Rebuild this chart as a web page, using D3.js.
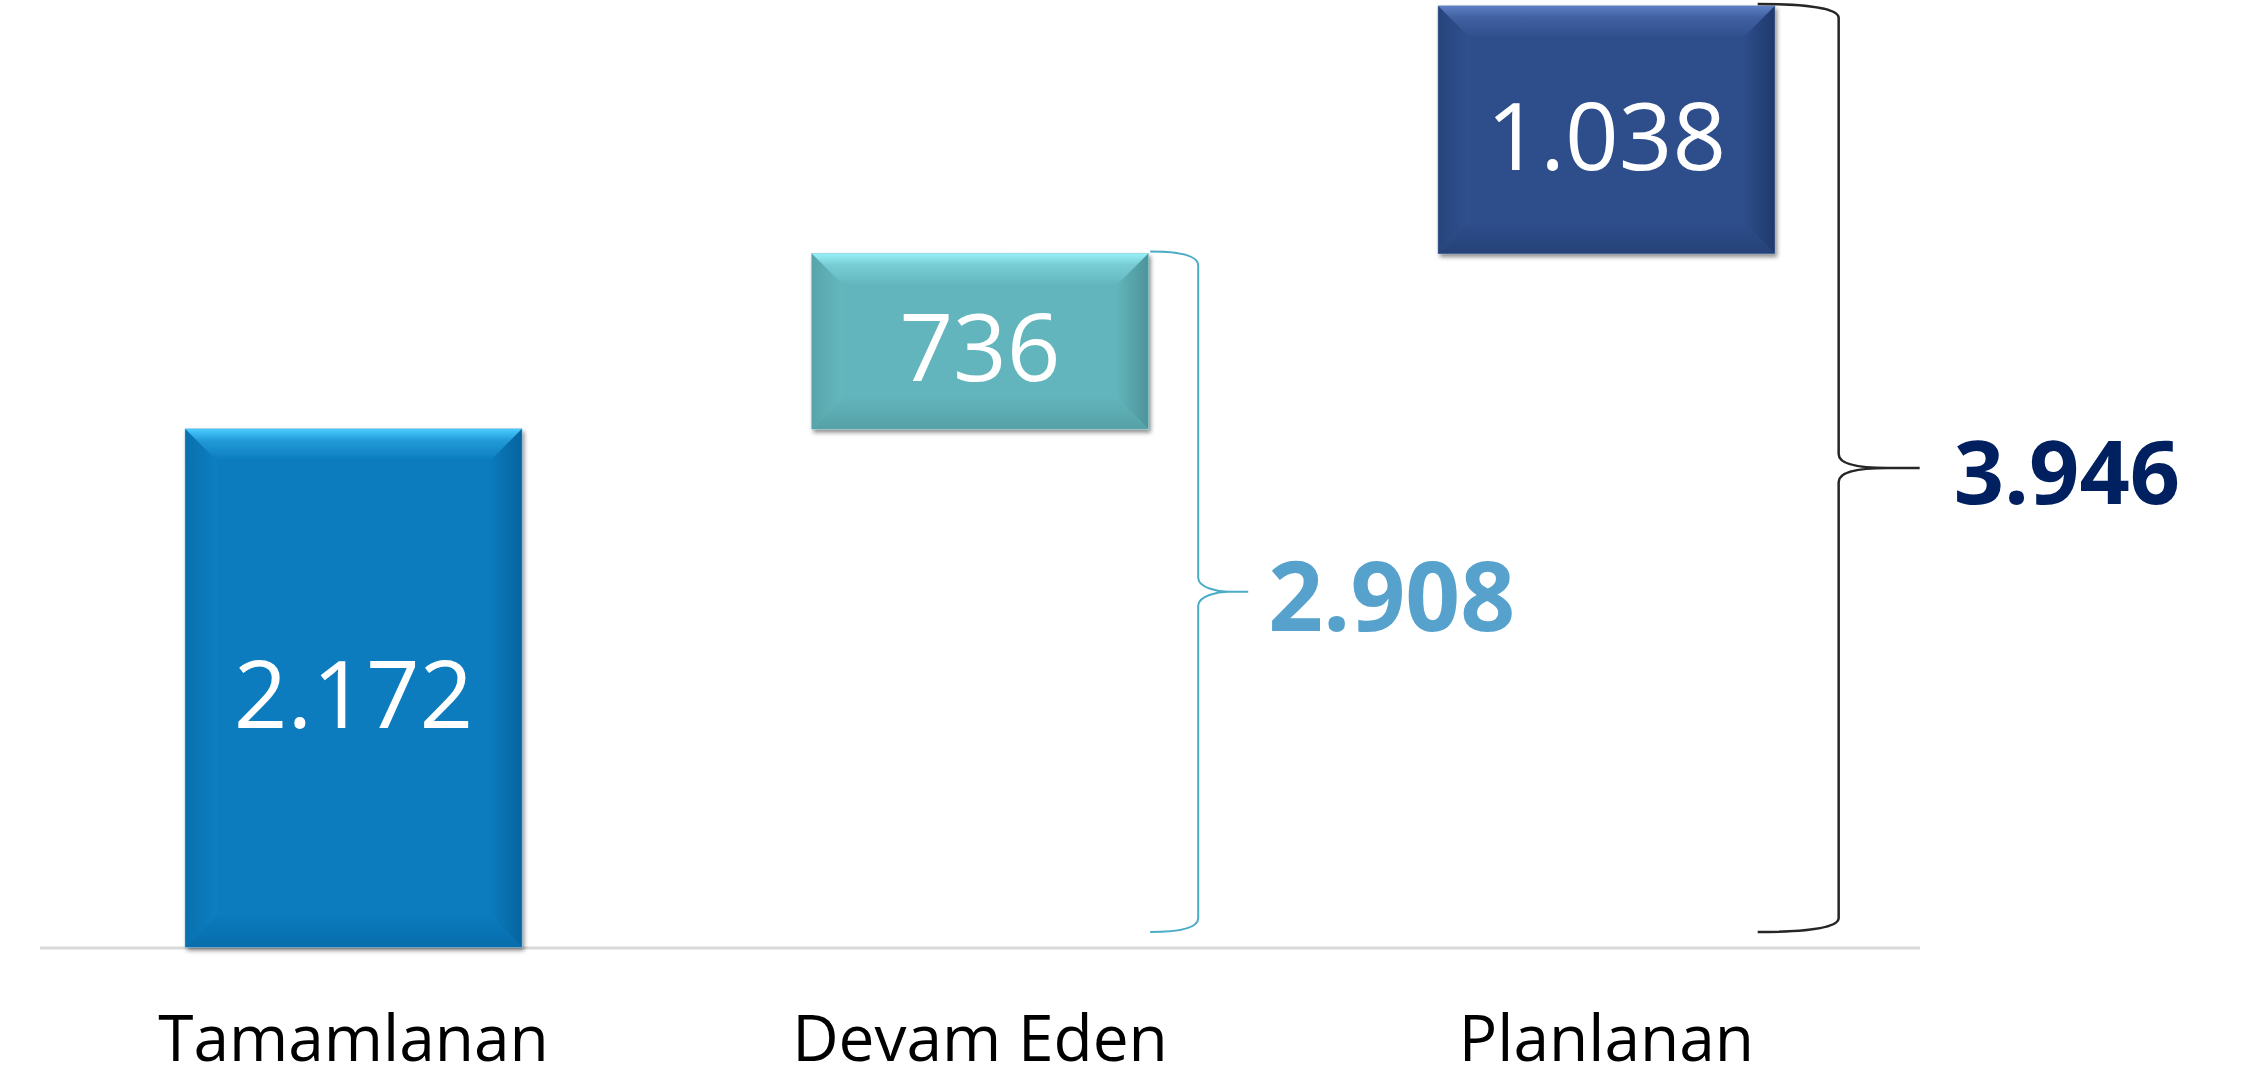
<!DOCTYPE html>
<html lang="tr">
<head>
<meta charset="UTF-8">
<title>Projeler</title>
<style>
    html,body{
        margin:0;
        padding:0;
        background:#fff;
    }
    svg{ display:block; }
</style>
</head>
<body>
<div id="chart"></div>
<script src="https://d3js.org/d3.v7.min.js"></script>
<script>
    // data
    const categories = ["Tamamlanan", "Devam Eden", "Planlanan"];
    const values = [2172, 736, 1038];
    const braceFor = [1, 2];           // running totals shown with a brace

    const barColors = [
        {base: "#0a7bbe", light: "#48cbff", dark: "#07649e"},
        {base: "#62b5bc", light: "#98f0f8", dark: "#4c9499"},
        {base: "#2e4d8b", light: "#5e80c4", dark: "#1f3a6c"}
    ];
    const totalColors = ["#56a2cd", "#56a2cd", "#002060"];
    const braceColors = ["#4bacc6", "#4bacc6", "#262626"];

    const [width, height] = [2249, 1081];
    const baseline = 947;

    const tr = d3.formatLocale({decimal: ",", thousands: ".", grouping: [3], currency: ["", ""]});
    const fmt = tr.format(",d");

    const starts = values.map((v, i) => d3.sum(values.slice(0, i)));
    const totals = Array.from(d3.cumsum(values));

    const svg = d3.select("#chart").append("svg")
        .attr("width", width)
        .attr("height", height);

    const x = d3.scaleBand()
        .domain(categories)
        .range([40, 1920])
        .paddingInner(0.463)
        .paddingOuter(0.232);

    const y = d3.scaleLinear()
        .domain([0, d3.max(totals)])
        .range([baseline, 6]);

    const defs = svg.append("defs");
    const f = defs.append("filter").attr("id", "shadow")
        .attr("x", "-10%").attr("y", "-10%").attr("width", "130%").attr("height", "130%");
    f.append("feDropShadow").attr("dx", 2).attr("dy", 3).attr("stdDeviation", 2)
        .attr("flood-color", "#000").attr("flood-opacity", 0.45);

    barColors.forEach((c, i) => {
        const g1 = defs.append("linearGradient").attr("id", "top" + i)
            .attr("x1", 0).attr("y1", 0).attr("x2", 0).attr("y2", 1);
        g1.append("stop").attr("offset", 0).attr("stop-color", c.light);
        g1.append("stop").attr("offset", 0.35).attr("stop-color", d3.interpolateRgb(c.light, c.base)(0.6));
        g1.append("stop").attr("offset", 1).attr("stop-color", c.base);
        const g2 = defs.append("linearGradient").attr("id", "left" + i)
            .attr("x1", 0).attr("y1", 0).attr("x2", 1).attr("y2", 0);
        g2.append("stop").attr("offset", 0).attr("stop-color", d3.interpolateRgb(c.base, c.dark)(0.5));
        g2.append("stop").attr("offset", 1).attr("stop-color", d3.interpolateRgb(c.base, c.light)(0.05));
        const g3 = defs.append("linearGradient").attr("id", "right" + i)
            .attr("x1", 0).attr("y1", 0).attr("x2", 1).attr("y2", 0);
        g3.append("stop").attr("offset", 0).attr("stop-color", c.base);
        g3.append("stop").attr("offset", 1).attr("stop-color", c.dark);
        const g4 = defs.append("linearGradient").attr("id", "bottom" + i)
            .attr("x1", 0).attr("y1", 0).attr("x2", 0).attr("y2", 1);
        g4.append("stop").attr("offset", 0).attr("stop-color", c.base);
        g4.append("stop").attr("offset", 1).attr("stop-color", d3.interpolateRgb(c.base, c.dark)(0.6));
    });

    // baseline
    svg.append("line")
        .attr("x1", 40).attr("x2", 1920)
        .attr("y1", baseline + 1).attr("y2", baseline + 1)
        .attr("stroke", "#d9d9d9").attr("stroke-width", 3);

    const bw = x.bandwidth();
    const bev = 32;

    const bars = svg.selectAll("g.bar")
        .data(values)
        .join("g")
        .attr("class", "bar");

    bars.each(function (v, i) {
        const g = d3.select(this);
        const x0 = x(categories[i]);
        const y0 = y(starts[i] + v);
        const h = y(starts[i]) - y0;
        const c = barColors[i];
        g.append("rect")
            .attr("x", x0).attr("y", y0).attr("width", bw).attr("height", h)
            .attr("fill", c.base)
            .attr("stroke", d3.interpolateRgb(c.base, "#ffffff")(0.3))
            .attr("stroke-width", 1)
            .attr("filter", "url(#shadow)");
        const b = Math.min(bev, h / 2);
        const pts = {
            top: [[x0, y0], [x0 + bw, y0], [x0 + bw - b, y0 + b], [x0 + b, y0 + b]],
            left: [[x0, y0], [x0 + b, y0 + b], [x0 + b, y0 + h - b], [x0, y0 + h]],
            right: [[x0 + bw, y0], [x0 + bw, y0 + h], [x0 + bw - b, y0 + h - b], [x0 + bw - b, y0 + b]],
            bottom: [[x0, y0 + h], [x0 + b, y0 + h - b], [x0 + bw - b, y0 + h - b], [x0 + bw, y0 + h]]
        };
        ["left", "right", "bottom", "top"].forEach(k => {
            g.append("polygon")
                .attr("points", pts[k].map(p => p.join(",")).join(" "))
                .attr("fill", "url(#" + k + i + ")");
        });
        g.append("text")
            .attr("x", x0 + bw / 2)
            .attr("y", y0 + h / 2 + 4)
            .attr("text-anchor", "middle")
            .attr("dominant-baseline", "central")
            .attr("font-family", "'Open Sans', sans-serif")
            .attr("font-size", 94)
            .attr("fill", "#fff")
            .text(fmt(v));
    });

    // braces with running totals
    const braceShape = {1: {start: 2, vert: 50, tip: 100}, 2: {start: -17, vert: 64, tip: 145}};
    braceFor.forEach(i => {
        const s = braceShape[i];
        const right = x(categories[i]) + bw;
        const xs = right + s.start, xv = right + s.vert, xt = right + s.tip;
        const y1 = y(totals[i]) - 2, y2 = y(0) - 15, ym = (y1 + y2) / 2;
        const r = 14;
        const p = d3.path();
        p.moveTo(xs, y1);
        p.bezierCurveTo(xs + (xv - xs) * 0.6, y1, xv, y1 + 4, xv, y1 + r);
        p.lineTo(xv, ym - r);
        p.bezierCurveTo(xv, ym - 4, xv + 20, ym, xv + (xt - xv) * 0.6, ym);
        p.lineTo(xt, ym);
        p.moveTo(xv + (xt - xv) * 0.6, ym);
        p.bezierCurveTo(xv + 20, ym, xv, ym + 4, xv, ym + r);
        p.lineTo(xv, y2 - r);
        p.bezierCurveTo(xv, y2 - 4, xs + (xv - xs) * 0.6, y2, xs, y2);
        svg.append("path")
            .attr("d", p.toString())
            .attr("fill", "none")
            .attr("stroke", braceColors[i])
            .attr("stroke-width", i === 2 ? 2.5 : 2);
        svg.append("text")
            .attr("x", xt + (i === 2 ? 34 : 20))
            .attr("y", ym + 2)
            .attr("dominant-baseline", "central")
            .attr("font-family", "'Open Sans', sans-serif")
            .attr("font-weight", "bold")
            .attr("font-size", i === 2 ? 88 : 96)
            .attr("fill", totalColors[i])
            .text(fmt(totals[i]));
    });

    // category labels
    svg.selectAll("text.cat")
        .data(categories)
        .join("text")
        .attr("class", "cat")
        .attr("x", d => x(d) + bw / 2)
        .attr("y", 1061)
        .attr("text-anchor", "middle")
        .attr("font-family", "'Open Sans', sans-serif")
        .attr("font-size", 64)
        .attr("fill", "#000")
        .text(d => d);
</script>
</body>
</html>
